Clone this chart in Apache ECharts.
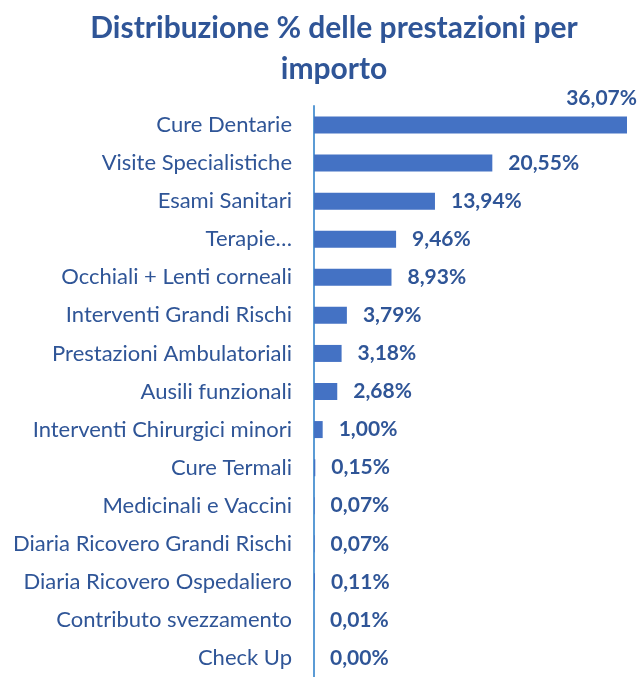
<!DOCTYPE html>
<html>
<head>
<meta charset="utf-8">
<script src="https://cdn.jsdelivr.net/npm/echarts@6/dist/echarts.min.js"></script>
<style>
  html, body { margin: 0; padding: 0; background: #fff; }
  #chart { width: 640px; height: 677px; }
</style>
</head>
<body>
<div id="chart"></div>
<script>
  // categorie e valori (%)
  const categories = [
    'Cure Dentarie', 'Visite Specialistiche', 'Esami Sanitari', 'Terapie…',
    'Occhiali + Lenti corneali', 'Interventi Grandi Rischi', 'Prestazioni Ambulatoriali',
    'Ausili funzionali', 'Interventi Chirurgici minori', 'Cure Termali',
    'Medicinali e Vaccini', 'Diaria Ricovero Grandi Rischi', 'Diaria Ricovero Ospedaliero',
    'Contributo svezzamento', 'Check Up'
  ];
  const values = [36.07, 20.55, 13.94, 9.46, 8.93, 3.79, 3.18, 2.68, 1.00, 0.15, 0.07, 0.07, 0.11, 0.01, 0.00];

  const titleColor = '#2F5597';
  const barColor = '#4472C4';

  const chart = echarts.init(document.getElementById('chart'));

  const seriesData = values.map(function (v, i) {
    if (i === 0) {
      return {
        value: v,
        label: { position: ['100%', -8], align: 'right', verticalAlign: 'bottom', offset: [10, 0] }
      };
    }
    return v;
  });

  const option = {
    title: {
      text: 'Distribuzione % delle prestazioni per\nimporto',
      left: 334,
      top: 8,
      padding: 0,
      textAlign: 'center',
      textStyle: {
        fontFamily: 'Lato',
        fontSize: 30,
        fontWeight: 'bold',
        color: titleColor,
        lineHeight: 41
      }
    },
    grid: { left: 314, right: 13, top: 106, height: 580 },
    xAxis: {
      type: 'value',
      min: 0,
      max: 36.07,
      show: false
    },
    yAxis: {
      type: 'category',
      inverse: true,
      data: categories,
      axisLine: { lineStyle: { color: '#5B9BD5', width: 2 } },
      axisTick: { show: false },
      axisLabel: {
        margin: 22,
        fontFamily: 'Lato',
        fontSize: 22,
        color: titleColor
      }
    },
    series: [{
      type: 'bar',
      data: seriesData,
      barWidth: 17,
      itemStyle: { color: barColor },
      label: {
        show: true,
        position: 'right',
        distance: 16,
        fontFamily: 'Lato',
        fontSize: 21,
        fontWeight: 'bold',
        color: titleColor,
        formatter: function (p) {
          return p.value.toFixed(2).replace('.', ',') + '%';
        }
      }
    }]
  };

  chart.setOption(option);
</script>
</body>
</html>
